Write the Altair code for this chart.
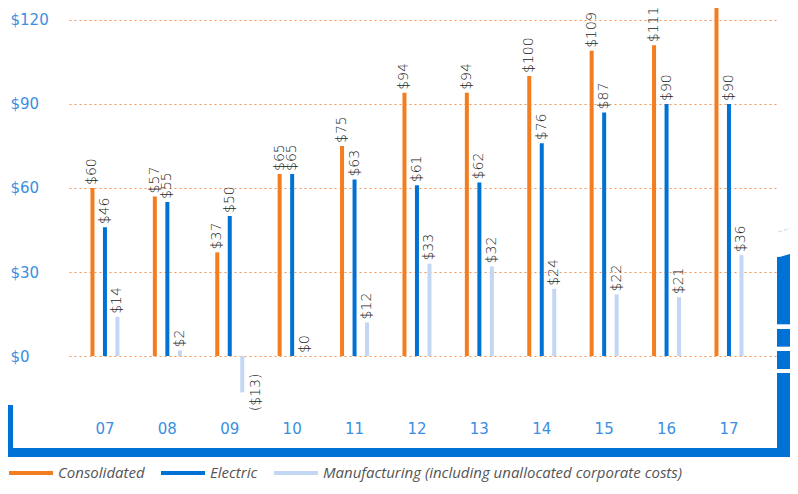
import altair as alt
import pandas as pd

years = ["07", "08", "09", "10", "11", "12", "13", "14", "15", "16", "17"]
series = ["Consolidated", "Electric", "Manufacturing (including unallocated corporate costs)"]
consolidated = [60, 57, 37, 65, 75, 94, 94, 100, 109, 111, 140]
electric = [46, 55, 50, 65, 63, 61, 62, 76, 87, 90, 90]
manufacturing = [14, 2, -13, 0, 12, 33, 32, 24, 22, 21, 36]
colors = ["#f47d20", "#0072d6", "#c3d6f3"]
y_ticks = [0, 30, 60, 90, 120]


def fmt(v):
    return f"(${-v})" if v < 0 else f"${v}"


rows = []
for name, vals in zip(series, [consolidated, electric, manufacturing]):
    for yr, v in zip(years, vals):
        rows.append({"year": yr, "series": name, "value": v, "label": fmt(v)})
df = pd.DataFrame(rows)

FONT = "DejaVu Sans"
AXIS_BLUE = "#3a8fe2"
DECO = "#0072d6"
PL = 61  # plot left offset inside the view

x_enc = alt.X(
    "year:N",
    sort=years,
    scale=alt.Scale(paddingInner=0, paddingOuter=0.173, align=0.22),
    axis=alt.Axis(
        title=None, domain=False, ticks=False, labelPadding=9, labelAngle=0,
        labelColor=AXIS_BLUE, labelFontSize=15, labelFont=FONT, grid=False,
    ),
)
xoff = alt.XOffset("series:N", sort=series,
                   scale=alt.Scale(domain=series, paddingInner=0, paddingOuter=0.996))
y_scale = alt.Scale(domain=[-20, 124.2857], nice=False, zero=False)
y_enc = alt.Y(
    "value:Q",
    scale=y_scale,
    axis=alt.Axis(
        title=None, values=y_ticks, labelExpr="'$' + datum.value", domain=False, ticks=False,
        tickSize=0, labelAlign="left", labelPadding=59, labelColor=AXIS_BLUE, labelFontSize=15,
        labelFont=FONT, grid=True, gridColor="#f59550", gridDash=[2, 3], gridWidth=1,
    ),
)

bars = alt.Chart(df).mark_rule(strokeWidth=4, clip=True).encode(
    x=x_enc,
    xOffset=xoff,
    y=y_enc,
    y2=alt.datum(0),
    color=alt.Color(
        "series:N",
        sort=series,
        scale=alt.Scale(domain=series, range=colors),
        legend=alt.Legend(
            title=None, orient="none", legendX=-62, legendY=441, direction="horizontal",
            symbolType="stroke", symbolStrokeWidth=4, symbolSize=1936, labelFont="Open Sans",
            labelFontStyle="italic", labelFontSize=15, labelColor="#555555", labelOffset=3,
            columnPadding=8, labelLimit=600, padding=0,
        ),
    ),
)

pos_labels = alt.Chart(df).transform_filter("datum.value >= 0").mark_text(
    angle=270, align="left", baseline="middle", dx=3, fontSize=14, font=FONT,
    fontWeight=200, color="#222222", clip=True,
).encode(x=x_enc, xOffset=xoff, y=alt.Y("value:Q", scale=y_scale), text="label:N")

neg_labels = alt.Chart(df).transform_filter("datum.value < 0").mark_text(
    angle=270, align="center", baseline="middle", dy=14, fontSize=14, font=FONT,
    fontWeight=200, color="#222222",
).encode(x=x_enc, xOffset=xoff, y=alt.Y("value:Q", scale=y_scale), text="label:N")

one = alt.Data(values=[{}])


def rect(x, x2, y, y2, color):
    return alt.Chart(one).mark_rect(color=color).encode(
        x=alt.value(x - PL), x2=alt.value(x2 - PL), y=alt.value(y), y2=alt.value(y2)
    )


deco = [
    rect(0, 5, 397, 449, DECO),
    rect(0, 769, 440, 449, DECO),
    rect(769, 790, 249, 449, DECO),
    rect(769, 790, 316.3, 321, "white"),
    rect(769, 790, 338.7, 343, "white"),
    rect(769, 790, 361, 365, "white"),
    alt.Chart(one).mark_point(
        shape="M-1,0.3L1,-0.27L1,0.3Z", filled=True, size=441, color=DECO, opacity=1, strokeWidth=0
    ).encode(x=alt.value(779.5 - PL), y=alt.value(246.5)),
    alt.Chart(one).mark_rule(color="#c8d8ee", strokeWidth=1, strokeDash=[4, 2]).encode(
        x=alt.value(770 - PL), x2=alt.value(790 - PL), y=alt.value(224), y2=alt.value(218)
    ),
]

chart = alt.layer(bars, pos_labels, neg_labels, *deco).properties(
    width=708, height=404,
    autosize=alt.AutoSizeParams(type="none"),
    padding={"left": PL, "top": 0, "right": 13, "bottom": 70},
).configure_view(stroke=None)

chart.save("out.html", embed_options={"renderer": "svg", "actions": False})
